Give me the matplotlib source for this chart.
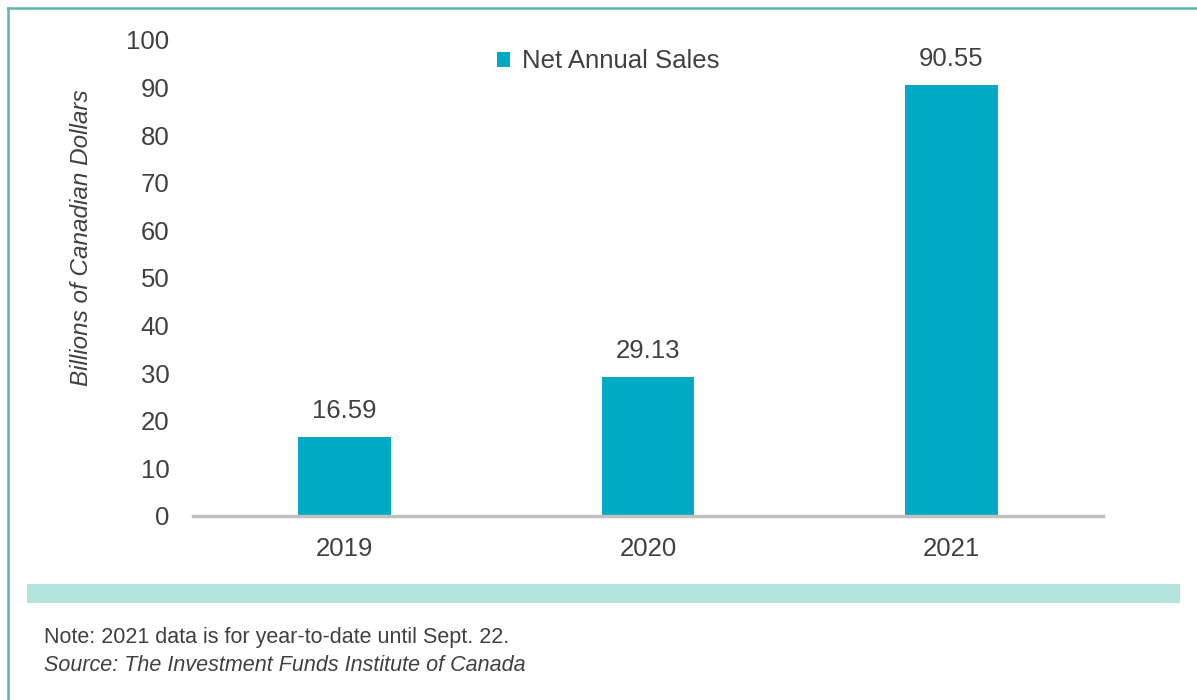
import matplotlib.pyplot as plt
from matplotlib.patches import Rectangle, Patch
from matplotlib.lines import Line2D

years = ['2019', '2020', '2021']
net_sales = [16.59, 29.13, 90.55]

bar_color = '#00aac4'
text_color = '#404040'

plt.rcParams['font.family'] = ['Liberation Sans', 'DejaVu Sans']

fig = plt.figure(figsize=(11.97, 7.0), dpi=100)
ax = fig.add_axes([0.1612, 0.2629, 0.7603, 0.68])

x = range(len(years))
ax.bar(x, net_sales, width=0.305, color=bar_color, zorder=2)

for i, v in enumerate(net_sales):
    ax.annotate(f'{v:.2f}', (i, v), xytext=(0, 10), textcoords='offset points',
                ha='center', va='bottom', fontsize=18.5, color=text_color)

ax.set_xlim(-0.5, 2.5)
ax.set_ylim(0, 100)
ax.set_yticks(range(0, 101, 10))
ax.set_xticks(list(x))
ax.set_xticklabels(years)
ax.tick_params(axis='both', length=0, labelsize=18.5, colors=text_color)
ax.tick_params(axis='y', pad=17)
ax.tick_params(axis='x', pad=15)

for side in ['top', 'right', 'left']:
    ax.spines[side].set_visible(False)
ax.spines['bottom'].set_color('#bfbfbf')
ax.spines['bottom'].set_linewidth(2.5)
ax.spines['bottom'].set_zorder(3)

ax.set_ylabel('Billions of Canadian Dollars', fontsize=17.5, style='italic', color=text_color)
ax.yaxis.set_label_coords(-0.110, 0.584)

handle = Patch(facecolor=bar_color, edgecolor='none')
ax.legend([handle], ['Net Annual Sales'], loc='center left', bbox_to_anchor=(0.309, 0.955),
          frameon=False, fontsize=18.5, handlelength=0.5, handleheight=0.5,
          handletextpad=0.45, labelcolor=text_color)

# light teal band under the chart
fig.patches.append(Rectangle((27 / 1197, 97 / 700), 1153 / 1197, 19 / 700,
                             transform=fig.transFigure, facecolor='#b2e3dc',
                             edgecolor='none'))

# frame lines top and left
border = '#5ab5ac'
fig.lines.append(Line2D([7.5 / 1197, 7.5 / 1197], [0, 1 - 7.5 / 700],
                        transform=fig.transFigure, color=border, linewidth=1.8))
fig.lines.append(Line2D([7.5 / 1197, 1], [1 - 7.5 / 700, 1 - 7.5 / 700],
                        transform=fig.transFigure, color=border, linewidth=1.8))

fig.text(44 / 1197, 0.09, 'Note: 2021 data is for year-to-date until Sept. 22.',
         fontsize=15.5, color=text_color, va='center')
fig.text(44 / 1197, 0.0486, 'Source: The Investment Funds Institute of Canada',
         fontsize=15.5, color=text_color, va='center', style='italic')

fig.savefig('out.png', dpi=100)
